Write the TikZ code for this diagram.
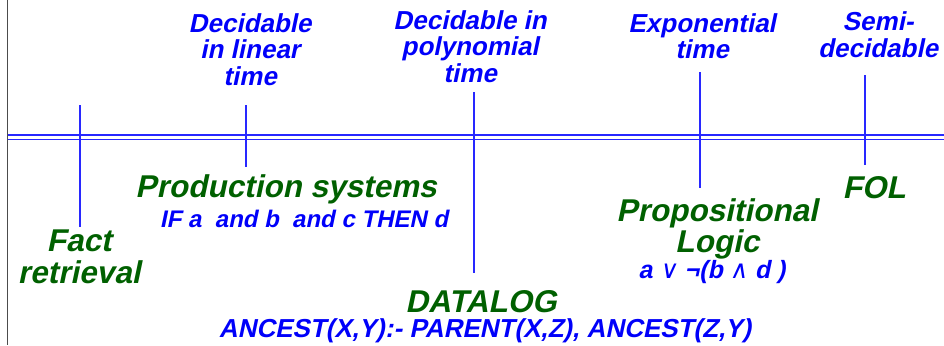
\documentclass[tikz,border=0pt]{standalone}
\usepackage{fontspec}
\setmainfont{Liberation Sans}
\newfontfamily\slsans{Liberation Sans}[FakeSlant=0.21]
\newfontfamily\symf{DejaVu Sans}[FakeSlant=0.15]
\definecolor{lblue}{RGB}{0,0,250}
\definecolor{tblue}{RGB}{40,40,255}
\definecolor{dgreen}{RGB}{0,96,0}
\begin{document}
\begin{tikzpicture}[x=1pt,y=-1pt,
  cls/.style={text=lblue,font=\slsans\bfseries\fontsize{26}{26.5}\selectfont,align=center,anchor=base,inner sep=0pt},
  lang/.style={text=dgreen,font=\slsans\bfseries\fontsize{31.5}{32}\selectfont,align=center,anchor=base,inner sep=0pt},
  ex/.style={text=lblue,font=\slsans\bfseries\fontsize{24}{24}\selectfont,anchor=base,inner sep=0pt},
  tickline/.style={draw=tblue,line width=1.3pt},
  axisline/.style={draw=tblue,line width=1.6pt},
  border/.style={draw=black!70,line width=0.9pt}]
\useasboundingbox (0,0) rectangle (944,345);
% border
\coordinate (b1) at (7.5,0);
\coordinate (b2) at (7.5,345);
\draw[border] (b1) -- (b2);
% axis
\coordinate (a1) at (7.5,135);
\coordinate (a2) at (944,135);
\coordinate (a3) at (7.5,139.5);
\coordinate (a4) at (944,139.5);
\draw[axisline] (a1) -- (a2);
\draw[axisline] (a3) -- (a4);
% class labels (base = baseline of last line)
\node[cls] (lin) at (250,85) {Decidable\\in linear\\time};
\node[cls] (poly) at (470,82) {Decidable in\\polynomial\\time};
\node[cls] (expo) at (702,59) {Exponential\\time};
\node[cls] (semi) at (878,57) {Semi-\\decidable};
% languages
\node[lang] (fact) at (79,283) {Fact\\retrieval};
\node[lang] (prod) at (286,197) {Production systems};
\node[ex] (ifthen) at (304,227) {IF a\ \ and b\ \ and c THEN d};
\node[lang] (datalog) at (481,312) {DATALOG};
\node[ex,font=\slsans\bfseries\fontsize{26}{26}\selectfont] (ancest) at (485,337) {ANCEST(X,Y):- PARENT(X,Z), ANCEST(Z,Y)};
\node[lang,font=\slsans\bfseries\fontsize{31.5}{31}\selectfont] (prop) at (717,252) {Propositional\\Logic};
\node[ex,font=\slsans\bfseries\fontsize{25}{25}\selectfont] (form) at (712,278) {a {\symf\mdseries ∨} ¬(b {\symf\mdseries ∧} d )};
\node[lang] (fol) at (874,198) {FOL};
% ticks
\coordinate (t1a) at (80,105);  \coordinate (t1b) at (80,227);
\coordinate (t2a) at (246,105); \coordinate (t2b) at (246,167);
\coordinate (t3a) at (474,92);  \coordinate (t3b) at (474,273);
\coordinate (t4a) at (700,72);  \coordinate (t4b) at (700,188);
\coordinate (t5a) at (865,75);  \coordinate (t5b) at (865,165);
\draw[tickline] (t1a) -- (t1b);
\draw[tickline] (t2a) -- (t2b);
\draw[tickline] (t3a) -- (t3b);
\draw[tickline] (t4a) -- (t4b);
\draw[tickline] (t5a) -- (t5b);
\end{tikzpicture}
\end{document}
